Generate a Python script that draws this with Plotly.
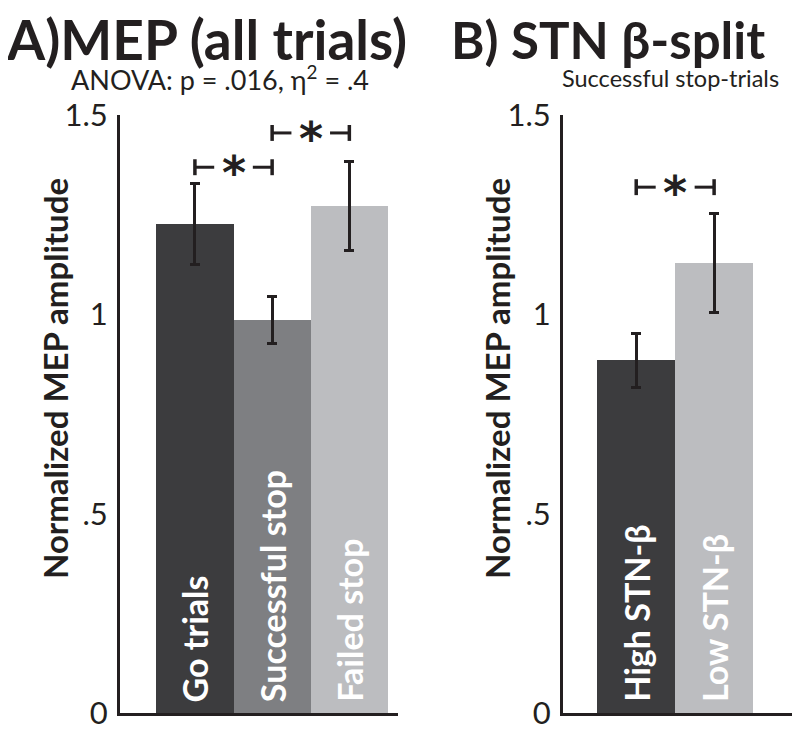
import plotly.graph_objects as go

# ---------------- data ----------------
cats_A = ["Go trials", "Successful stop", "Failed stop"]
mep_A = [1.226, 0.986, 1.272]
err_A = [0.101, 0.058, 0.112]

cats_B = ["High STN-β", "Low STN-β"]
mep_B = [0.885, 1.129]
err_B = [0.068, 0.124]

# significance brackets: (left bar index, right bar index, height)
sig_A = [(0, 1, 1.369), (1, 2, 1.455)]
sig_B = [(0, 1, 1.319)]

tick_vals = [0, 0.5, 1, 1.5]
tick_text = ["0", ".5", "1", "1.5"]

# ---------------- style ----------------
OFF = 8                      # page body margin offset
W, H = 800 - OFF, 743 - OFF
INK = "#231f20"
col_A = ["#3c3c3e", "#7e7f82", "#bcbdc0"]
col_B = ["#3c3c3e", "#bcbdc0"]
FONT = "Lato"

def px(x):
    return (x - OFF) / W

def py(y):
    return 1 - (y - OFF) / H

fig = go.Figure()

fig.add_trace(go.Bar(
    x=list(range(len(cats_A))), y=mep_A, width=1.0,
    marker=dict(color=col_A, line=dict(width=0)),
    error_y=dict(type="data", array=err_A, color=INK, thickness=3, width=5),
    xaxis="x", yaxis="y", showlegend=False, hoverinfo="skip"))

fig.add_trace(go.Bar(
    x=list(range(len(cats_B))), y=mep_B, width=1.0,
    marker=dict(color=col_B, line=dict(width=0)),
    error_y=dict(type="data", array=err_B, color=INK, thickness=3, width=5),
    xaxis="x2", yaxis="y2", showlegend=False, hoverinfo="skip"))

ydom = [py(713), py(115)]
axis_common = dict(showline=True, linewidth=3, linecolor=INK, showgrid=False,
                   zeroline=False, automargin=False)
fig.update_layout(
    template="none",
    width=W, height=H, margin=dict(l=0, r=0, t=0, b=0, pad=0, autoexpand=False),
    paper_bgcolor="white", plot_bgcolor="white",
    font=dict(family=FONT, color=INK),
    xaxis=dict(domain=[px(120), px(398)], range=[-0.97, 2.63],
               showticklabels=False, ticks="", anchor="y", **axis_common),
    yaxis=dict(domain=ydom, range=[0, 1.5], anchor="x",
               tickvals=tick_vals, ticktext=tick_text, ticks="",
               ticklabelstandoff=3, tickfont=dict(size=31, color=INK),
               **axis_common),
    xaxis2=dict(domain=[px(563), px(792)], range=[-0.94, 2.0],
                showticklabels=False, ticks="", anchor="y2", **axis_common),
    yaxis2=dict(domain=ydom, range=[0, 1.5], anchor="x2",
                tickvals=tick_vals, ticktext=tick_text, ticks="",
                ticklabelstandoff=3, tickfont=dict(size=31, color=INK),
                **axis_common),
    bargap=0,
)

shapes = []
annotations = []

CAP = 0.02  # half-height of bracket end caps (data units)

def add_brackets(sigs, xr, yr):
    for (i, j, h) in sigs:
        span = j - i
        segs = [(i, i + 0.25 * span), (i + 0.75 * span, j)]
        for (a, b) in segs:
            shapes.append(dict(type="line", xref=xr, yref=yr, x0=a, x1=b, y0=h, y1=h,
                               line=dict(color=INK, width=3)))
        for e in (i, j):
            shapes.append(dict(type="line", xref=xr, yref=yr, x0=e, x1=e,
                               y0=h - CAP, y1=h + CAP, line=dict(color=INK, width=3.5)))
        annotations.append(dict(x=(i + j) / 2, y=h, xref=xr, yref=yr, text="<b>*</b>",
                                showarrow=False,
                                font=dict(family="DejaVu Sans", size=46, color=INK),
                                xanchor="center", yanchor="middle", yshift=-6))

add_brackets(sig_A, "x", "y")
add_brackets(sig_B, "x2", "y2")

def add_bar_labels(cats, xr, yr):
    for k, c in enumerate(cats):
        annotations.append(dict(x=k, y=0, xref=xr, yref=yr, text="<b>%s</b>" % c,
                                textangle=-90, showarrow=False,
                                font=dict(size=34, color="white"),
                                xanchor="center", yanchor="bottom", yshift=9))

add_bar_labels(cats_A, "x", "y")
add_bar_labels(cats_B, "x2", "y2")

# titles and subtitles
annotations += [
    dict(x=px(4), y=py(39), xref="paper", yref="paper", text="<b>A)MEP (all trials)</b>",
         showarrow=False, xanchor="left", yanchor="middle", font=dict(size=55, color=INK)),
    dict(x=px(69), y=py(78), xref="paper", yref="paper",
         text="ANOVA: p = .016, η<sup>2</sup> = .4",
         showarrow=False, xanchor="left", yanchor="middle", font=dict(size=27, color=INK)),
    dict(x=px(449), y=py(39), xref="paper", yref="paper", text="<b>B) STN β-split</b>",
         showarrow=False, xanchor="left", yanchor="middle", font=dict(size=51, color=INK)),
    dict(x=px(560), y=py(78), xref="paper", yref="paper", text="Successful stop-trials",
         showarrow=False, xanchor="left", yanchor="middle", font=dict(size=23.5, color=INK)),
    dict(x=px(55), y=py(379), xref="paper", yref="paper", text="<b>Normalized MEP amplitude</b>",
         showarrow=False, textangle=-90, xanchor="center", yanchor="middle",
         font=dict(size=33, color=INK)),
    dict(x=px(497), y=py(379), xref="paper", yref="paper", text="<b>Normalized MEP amplitude</b>",
         showarrow=False, textangle=-90, xanchor="center", yanchor="middle",
         font=dict(size=33, color=INK)),
]

fig.update_layout(shapes=shapes, annotations=annotations)
fig.write_html("out.html")
